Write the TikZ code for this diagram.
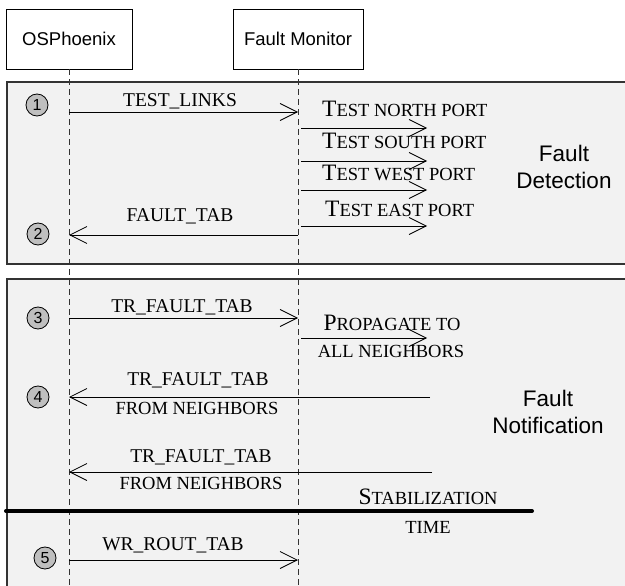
\documentclass[tikz,border=0pt]{standalone}
\usepackage{fontspec}
\setmainfont{Liberation Serif}
\setsansfont{Liberation Sans}
\usetikzlibrary{arrows.meta,positioning}

% fake small caps: big initial, smaller rest
\newcommand{\fakesc}[2]{{\fontsize{23.5}{25}\selectfont #1}{\fontsize{18.5}{21}\selectfont #2}}

\begin{document}
\begin{tikzpicture}[x=1pt, y=-1pt,
  actor/.style={draw, line width=0.8pt, fill=white, minimum height=60pt, inner sep=0pt, font=\sffamily\fontsize{18.5}{22}\selectfont},
  panel/.style={draw=black!80, line width=1.6pt, fill=black!5},
  lifeline/.style={line width=0.8pt, black!80, dash pattern=on 6pt off 4pt},
  msg/.style={line width=0.8pt, -{Straight Barb[length=17pt,width=17pt]}},
  stepnum/.style={circle, draw, line width=0.8pt, fill=black!25, minimum size=22pt, inner sep=0pt, font=\sffamily\fontsize{16}{16}\selectfont},
  lbl/.style={anchor=base, inner sep=0pt, font=\fontsize{19.5}{21}\selectfont},
  sclbl/.style={lbl, font=\fontsize{18.5}{21}\selectfont},
  phase/.style={align=center, inner sep=0pt, font=\sffamily\fontsize{22.5}{27}\selectfont}]
  \useasboundingbox (0,0) rectangle (625,586);
  \clip (0,0) rectangle (625,586);

  % Phase panels
  \draw[panel] (7,82) rectangle (640,264);
  \draw[panel] (7,279) rectangle (640,600);

  % Actors and lifelines
  \node[actor, minimum width=126pt] (os) at (69,39) {OSPhoenix};
  \node[actor, minimum width=130pt] (fm) at (298,39) {Fault Monitor};
  \coordinate (osend) at (69,590);
  \coordinate (fmend) at (298,590);
  \draw[lifeline] (os.south) -- (osend);
  \draw[lifeline] (fm.south) -- (fmend);

  % Fault detection
  \node[stepnum] (s1) at (37,105) {1};
  \coordinate (os1) at (69,112);
  \coordinate (fm1) at (298,112);
  \draw[msg] (os1) -- (fm1);
  \node[lbl] (testlinks) at (180,107) {TEST\_LINKS};

  \foreach \y/\b/\x/\dir [count=\i] in {128/117/322/NORTH, 161/149/322/SOUTH, 190/180/322/WEST, 226/216/325/EAST} {
    \coordinate (tp\i s) at (301,\y);
    \coordinate (tp\i e) at (427,\y);
    \draw[msg] (tp\i s) -- (tp\i e);
    \node[lbl, anchor=base west] (tplbl\i) at (\x,\b) {\fakesc{T}{EST \dir\ PORT}};
  }

  \node[stepnum] (s2) at (38,234) {2};
  \coordinate (fm2) at (298,235);
  \coordinate (os2) at (69,235);
  \draw[msg] (fm2) -- (os2);
  \node[lbl] (faulttab) at (180,222) {FAULT\_TAB};

  \node[phase] (detect) at (564,167) {Fault\\Detection};

  % Fault notification
  \node[stepnum] (s3) at (38,318) {3};
  \coordinate (os3) at (69,318);
  \coordinate (fm3) at (298,318);
  \draw[msg] (os3) -- (fm3);
  \node[lbl] (trtab1) at (182,312) {TR\_FAULT\_TAB};

  \coordinate (prs) at (301,338);
  \coordinate (pre) at (427,338);
  \draw[msg] (prs) -- (pre);
  \node[lbl] (prop1) at (392,330) {\fakesc{P}{ROPAGATE TO}};
  \node[sclbl] (prop2) at (391,357) {ALL NEIGHBORS};

  \node[stepnum] (s4) at (38,397) {4};
  \coordinate (nb4) at (430,397);
  \coordinate (os4) at (69,397);
  \draw[msg] (nb4) -- (os4);
  \node[lbl] (trtab2) at (198,385) {TR\_FAULT\_TAB};
  \node[sclbl] (from2) at (197,414) {FROM NEIGHBORS};

  \coordinate (nb5) at (432,472);
  \coordinate (os5) at (69,472);
  \draw[msg] (nb5) -- (os5);
  \node[lbl] (trtab3) at (201,462) {TR\_FAULT\_TAB};
  \node[sclbl] (from3) at (201,489) {FROM NEIGHBORS};

  \node[phase] (notify) at (548,412) {Fault\\Notification};

  % Stabilization time
  \coordinate (stabl) at (6,511);
  \coordinate (stabr) at (532,511);
  \draw[line width=4pt, line cap=round] (stabl) -- (stabr);
  \node[lbl] (stab1) at (428,504) {\fakesc{S}{TABILIZATION}};
  \node[sclbl] (stab2) at (428,533) {TIME};

  % Routing table write
  \node[stepnum] (s5) at (45,558) {5};
  \coordinate (os6) at (69,560);
  \coordinate (fm6) at (298,560);
  \draw[msg] (os6) -- (fm6);
  \node[lbl] (wrtab) at (173,550) {WR\_ROUT\_TAB};
\end{tikzpicture}
\end{document}
